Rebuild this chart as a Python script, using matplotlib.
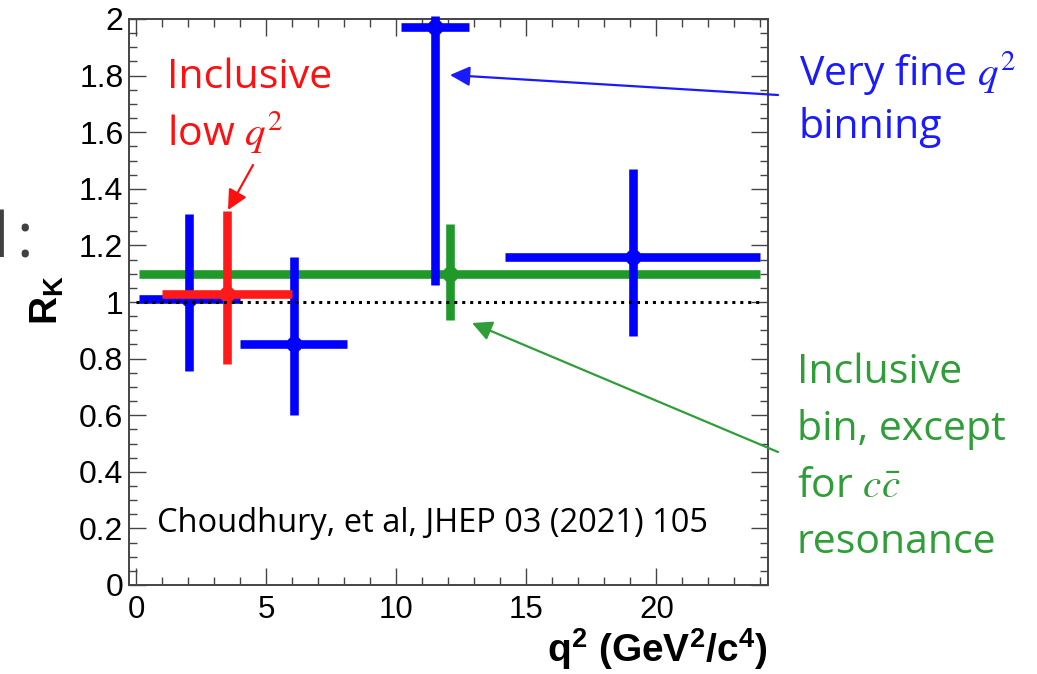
import matplotlib
matplotlib.use("Agg")
import matplotlib.pyplot as plt
from matplotlib.ticker import MultipleLocator, FixedLocator

# ---------------- data ----------------
blue_q2 = [2.05, 6.06, 11.5, 19.09]
blue_q2_half = [1.95, 2.06, 1.30, 4.91]
blue_rk = [1.01, 0.85, 1.97, 1.16]
blue_err_lo = [0.255, 0.25, 0.91, 0.28]
blue_err_hi = [0.30, 0.31, 0.04, 0.31]

red_q2 = [3.5]
red_q2_half = [2.5]
red_rk = [1.03]
red_err_lo = [0.25]
red_err_hi = [0.29]

green_q2 = [12.05]
green_q2_half = [11.95]
green_rk = [1.10]
green_err_lo = [0.165]
green_err_hi = [0.175]

sm_q2 = [0.0, 24.1]
sm_rk = [1.0, 1.0]

x_ticks = [0, 5, 10, 15, 20]
x_tick_labels = ["0", "5", "10", "15", "20"]
y_ticks = [0, 0.2, 0.4, 0.6, 0.8, 1.0, 1.2, 1.4, 1.6, 1.8, 2.0]
y_tick_labels = ["0", "0.2", "0.4", "0.6", "0.8", "1", "1.2", "1.4", "1.6", "1.8", "2"]

# ---------------- styles ----------------
W, H = 1037, 674
BLUE = "#0000ff"
RED = "#ff1a1a"
GREEN = "#1f9a2a"
TXT_BLUE = "#1a1aff"
TXT_RED = "#ff1010"
TXT_GREEN = "#2f9e38"
SLIDE_FONT = ["Open Sans", "DejaVu Sans"]

plt.rcParams["mathtext.fontset"] = "custom"
plt.rcParams["mathtext.rm"] = "Liberation Sans:bold"
plt.rcParams["mathtext.bf"] = "Liberation Sans:bold"
plt.rcParams["mathtext.it"] = "Liberation Sans:bold:italic"

fig = plt.figure(figsize=(W / 100, H / 100), dpi=100)


def fp(x, y):
    """top-left pixel -> figure fraction"""
    return (x / W, 1 - y / H)


ax = fig.add_axes([129 / W, 1 - 585 / H, (768 - 129) / W, (585 - 19) / H])
ax.set_xlim(-0.27, 24.29)
ax.set_ylim(0, 2)

lw_bar = 6.2
ms = 10.5

ax.errorbar(green_q2, green_rk, xerr=[green_q2_half, green_q2_half],
            yerr=[green_err_lo, green_err_hi], fmt="o", color=GREEN,
            ms=ms, elinewidth=lw_bar, capsize=0, zorder=3, clip_on=False)
ax.errorbar(blue_q2, blue_rk, xerr=[blue_q2_half, blue_q2_half],
            yerr=[blue_err_lo, blue_err_hi], fmt="o", color=BLUE,
            ms=ms, elinewidth=lw_bar, capsize=0, zorder=4, clip_on=False)
ax.errorbar(red_q2, red_rk, xerr=[red_q2_half, red_q2_half],
            yerr=[red_err_lo, red_err_hi], fmt="o", color=RED,
            ms=ms, elinewidth=lw_bar, capsize=0, zorder=5, clip_on=False)
ax.plot(sm_q2, sm_rk, color="black", lw=2.2, dashes=(1, 1.6), zorder=6)

# ticks
frame_col = "#444444"
for s in ax.spines.values():
    s.set_color(frame_col)
    s.set_linewidth(1.4)
ax.xaxis.set_major_locator(FixedLocator(x_ticks))
ax.set_xticklabels(x_tick_labels)
ax.xaxis.set_minor_locator(MultipleLocator(1))
ax.yaxis.set_major_locator(FixedLocator(y_ticks))
ax.set_yticklabels(y_tick_labels)
ax.yaxis.set_minor_locator(MultipleLocator(0.05))
ax.tick_params(which="both", direction="in", top=True, right=True,
               color=frame_col, width=1.0)
ax.tick_params(which="major", length=12.2)
ax.tick_params(which="minor", length=5.8)
ax.tick_params(axis="x", which="major", pad=7.0, labelsize=22.5)
ax.tick_params(axis="y", which="major", pad=4.0, labelsize=23)
for lab in ax.get_xticklabels() + ax.get_yticklabels():
    lab.set_fontfamily("Liberation Sans")

# axis labels
fig.text(*fp(767, 662), r"q$^{\mathbf{2}}$ (GeV$^{\mathbf{2}}$/c$^{\mathbf{4}}$)",
         ha="right", va="baseline", fontsize=28, fontweight="bold",
         family="Liberation Sans", math_fontfamily="custom")
fig.text(*fp(47, 300), r"R$_{\mathbf{K}}$", rotation=90, ha="center", va="center",
         fontsize=28, fontweight="bold", family="Liberation Sans",
         math_fontfamily="custom")

# cut-off slide text at left edge
fig.text(*fp(9, 258), "d", ha="right", va="baseline", fontsize=45,
         color="#404040", family=SLIDE_FONT)
fig.text(*fp(16, 258), ":", ha="left", va="baseline", fontsize=45,
         color="#404040", family=SLIDE_FONT)

# reference text
fig.text(*fp(157, 532), "Choudhury, et al, JHEP 03 (2021) 105", ha="left",
         va="baseline", fontsize=23.5, color="black", family=SLIDE_FONT)

# annotations
def slide_line(x, y, s, color):
    fig.text(*fp(x, y), s, ha="left", va="baseline", fontsize=29.5, color=color,
             family=SLIDE_FONT, math_fontfamily="stix")

slide_line(167, 88, "Inclusive", TXT_RED)
slide_line(167, 145, r"low $q^2$", TXT_RED)
slide_line(799, 85, r"Very fine $q^2$", TXT_BLUE)
slide_line(799, 138, "binning", TXT_BLUE)
slide_line(797, 383, "Inclusive", TXT_GREEN)
slide_line(797, 440, "bin, except", TXT_GREEN)
slide_line(797, 497, r"for $c\bar{c}$", TXT_GREEN)
slide_line(797, 553, "resonance", TXT_GREEN)


def arrow(x0, y0, x1, y1, color, hl=12, hw=6):
    fig.add_artist(matplotlib.patches.FancyArrowPatch(
        fp(x0, y0), fp(x1, y1), transform=fig.transFigure,
        arrowstyle=f"-|>,head_length={hl},head_width={hw}",
        color=color, lw=1.6, shrinkA=0, shrinkB=0, mutation_scale=1))


arrow(253, 165, 228, 210, TXT_RED)
arrow(778, 95, 450, 75, TXT_BLUE)
arrow(778, 452, 472, 323, TXT_GREEN)

fig.savefig("out.png", dpi=100)
